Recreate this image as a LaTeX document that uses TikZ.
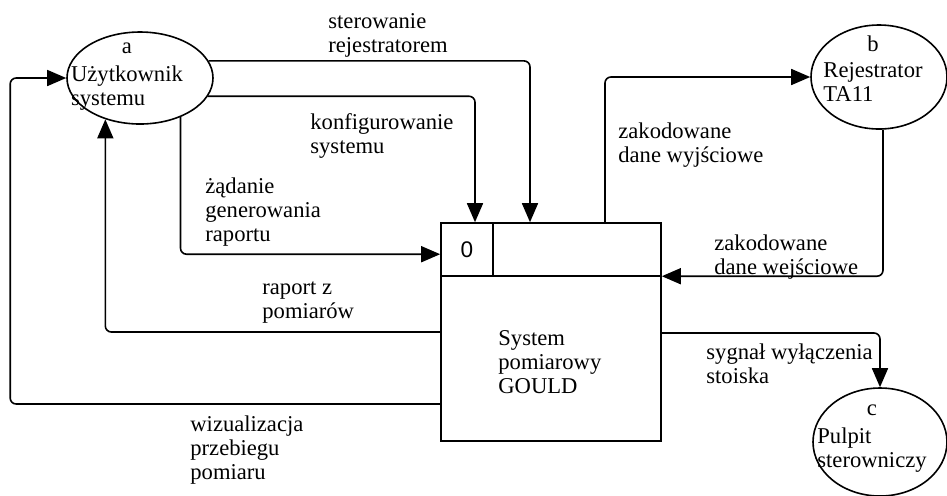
\documentclass[tikz,border=0pt]{standalone}
\usepackage{fontspec}
\setmainfont{Liberation Serif}
\newfontfamily\digitfont{Liberation Sans}
\usetikzlibrary{calc,arrows.meta,shapes.geometric}

\tikzset{
  entity/.style={draw, ellipse, line width=0.8pt, inner sep=0pt},
  entitytext/.style={inner sep=0pt},
  flow/.style={draw, line width=0.8pt, rounded corners=3pt,
    -{Triangle[length=9.5pt,width=8pt]}},
  flowlabel/.style={anchor=west, align=left, inner sep=0pt},
}

\begin{document}
\begin{tikzpicture}[x=0.5pt, y=-0.5pt,
  every node/.style={font=\fontsize{11.3}{12}\selectfont}]
  \useasboundingbox (0,0) rectangle (947,495);

  % External entities
  \node[entity, minimum width=73pt, minimum height=46pt] (a) at (140,78) {};
  \node[entity, minimum width=68pt, minimum height=52pt] (b) at (879,77) {};
  \node[entity, minimum width=67pt, minimum height=54pt] (c) at (880,442) {};
  \node[entitytext] (a-text) at (127,75)
    {\begin{tabular}{@{}l@{}}\multicolumn{1}{@{}c@{}}{a}\\[2pt] Użytkownik\\ systemu\end{tabular}};
  \node[entitytext] (b-text) at (873,72)
    {\begin{tabular}{@{}l@{}}\multicolumn{1}{@{}c@{}}{b}\\[1pt] Rejestrator\\ TA11\end{tabular}};
  \node[entitytext] (c-text) at (872,437)
    {\begin{tabular}{@{}l@{}}\multicolumn{1}{@{}c@{}}{c}\\[2pt] Pulpit\\ sterowniczy\end{tabular}};

  % Process
  \node[draw, line width=0.8pt, minimum width=110pt, minimum height=109pt,
    inner sep=0pt] (proc) at (551,332) {};
  \draw[line width=0.8pt] ($(proc.north west)+(0,54)$) -- ($(proc.north east)+(0,54)$);
  \draw[line width=0.8pt] ($(proc.north west)+(53,0)$) -- ($(proc.north west)+(53,54)$);
  \node (proc-id) at (467,250) {\digitfont 0};
  \node[flowlabel] (proc-name) at (498,362) {System\\pomiarowy\\GOULD};

  % Data flows
  \draw[flow] (a.14) -| ($(proc.north)+(-21,0)$);
  \draw[flow] (a.-15) -| ($(proc.north)+(-76,0)$);
  \draw[flow] (a.-44) |- ($(proc.north west)+(0,32)$);
  \draw[flow] (proc.west) -| (a.-130);
  \draw[flow] ($(proc.west)+(0,72)$) -| ([xshift=-28pt]a.west) -- (a.west);
  \draw[flow] ($(proc.north)+(54,0)$) |- (b.west);
  \draw[flow] ($(b.south)+(4,0)$) |- ($(proc.north east)+(0,54)$);
  \draw[flow] ($(proc.east)+(0,1)$) -| (c.north);

  % Flow labels
  \node[flowlabel] (l-ster) at (328,35) {sterowanie\\rejestratorem};
  \node[flowlabel] (l-konf) at (310,136) {konfigurowanie\\systemu};
  \node[flowlabel] (l-zad) at (205,212) {żądanie\\generowania\\raportu};
  \node[flowlabel] (l-rap) at (262,303) {raport z\\pomiarów};
  \node[flowlabel] (l-wiz) at (190,450) {wizualizacja\\przebiegu\\pomiaru};
  \node[flowlabel] (l-zwy) at (618,145) {zakodowane\\dane wyjściowe};
  \node[flowlabel] (l-zwe) at (714,257) {zakodowane\\dane wejściowe};
  \node[flowlabel] (l-syg) at (706,364) {sygnał wyłączenia\\stoiska};
\end{tikzpicture}
\end{document}
